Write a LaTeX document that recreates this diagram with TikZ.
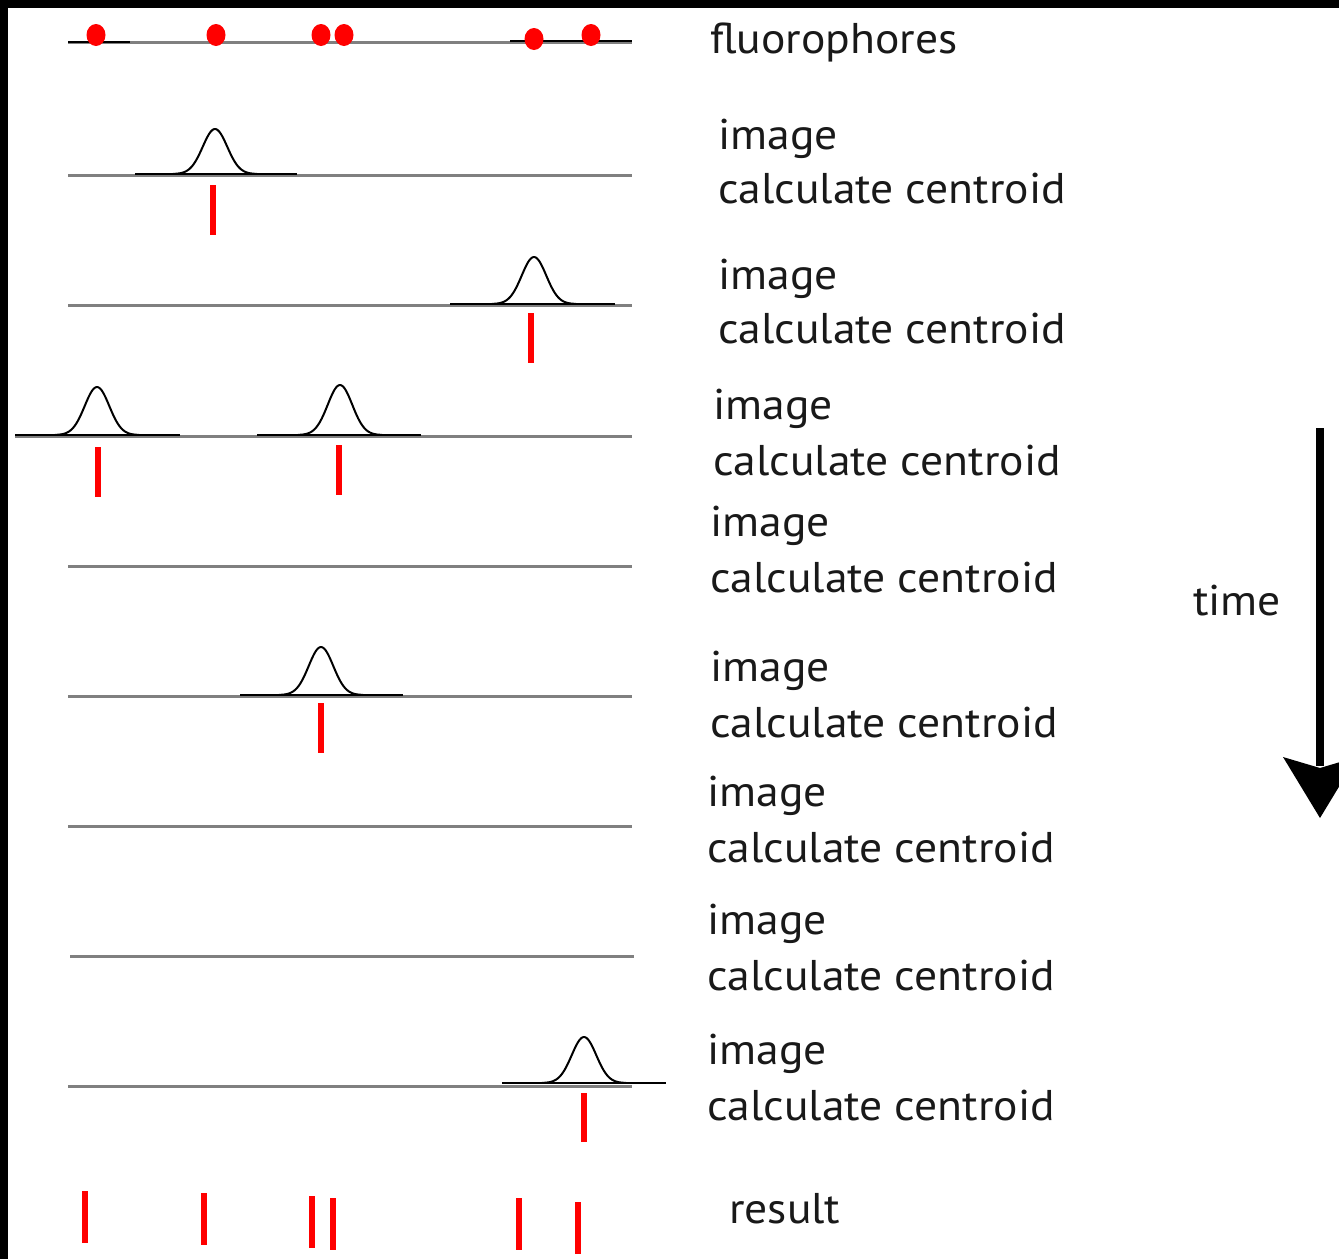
\documentclass[tikz,border=0pt]{standalone}
\usepackage{fontspec}
\setmainfont[FakeStretch=1.06]{PT Sans}
\begin{document}
\begin{tikzpicture}[x=1pt,y=-1pt,
  baseln/.style={draw=black!50,line width=3pt},
  thinblk/.style={draw=black,line width=1.4pt},
  curve/.style={draw=black,line width=2pt,line join=round},
  tick/.style={draw=red,line width=6pt},
  dot/.style={fill=red,draw=none},
  lbl/.style={anchor=base west,inner sep=0pt,font=\fontsize{43}{50}\selectfont,text=black!90},
]
\useasboundingbox (0,0) rectangle (1339,1259);
\clip (0,0) rectangle (1339,1259);
\fill[white] (0,0) rectangle (1339,1259);
% black frame top and left
\fill[black] (0,0) rectangle (1339,8);
\fill[black] (0,0) rectangle (8,1259);

\newcommand\gpk[5]{% center x, base y, left, right, height
  \draw[thinblk] (#3,#2-1) -- (#4,#2-1);
  \draw[curve] plot[domain=-42:42,samples=61,smooth] ({#1+\x},{#2-1-#5*exp(-(\x*\x)/300)});
}

% row 0: fluorophores
\draw[baseln] (68,42) -- (632,42);
\draw[thinblk] (68,42) -- (130,42);
\draw[thinblk] (510,41) -- (632,41);
\foreach \cx/\cy in {96/35,216/35,321/35,344/35,534/39,591/35}
  \fill[dot] (\cx,\cy) ellipse [x radius=9.5,y radius=11];

% row 1
\draw[baseln] (68,175) -- (632,175);
\gpk{215}{175}{135}{297}{45}
\draw[tick] (213,185) -- (213,235);

% row 2
\draw[baseln] (68,305) -- (632,305);
\gpk{534}{305}{450}{615}{47}
\draw[tick] (531,313) -- (531,363);

% row 3
\draw[baseln] (15,436) -- (632,436);
\gpk{97}{436}{15}{180}{48}
\gpk{340}{436}{257}{421}{50}
\draw[tick] (98,447) -- (98,497);
\draw[tick] (339,445) -- (339,495);

% row 4
\draw[baseln] (68,566) -- (632,566);

% row 5
\draw[baseln] (68,696) -- (632,696);
\gpk{321}{696}{240}{403}{48}
\draw[tick] (321,703) -- (321,753);

% row 6
\draw[baseln] (68,826) -- (632,826);

% row 7
\draw[baseln] (70,956) -- (634,956);

% row 8
\draw[baseln] (68,1086) -- (632,1086);
\gpk{584}{1084}{502}{666}{46}
\draw[tick] (584,1093) -- (584,1142);

% result ticks
\draw[tick] (85,1191) -- (85,1243);
\draw[tick] (204,1193) -- (204,1245);
\draw[tick] (312,1196) -- (312,1248);
\draw[tick] (333,1198) -- (333,1250);
\draw[tick] (519,1198) -- (519,1250);
\draw[tick] (578,1202) -- (578,1254);

% labels
\node[lbl] (fl) at (710,53) {fluorophores};
\node[lbl] (i1) at (718,149) {image};
\node[lbl] (c1) at (718,203) {calculate centroid};
\node[lbl] (i2) at (718,289) {image};
\node[lbl] (c2) at (718,343) {calculate centroid};
\node[lbl] (i3) at (713,419) {image};
\node[lbl] (c3) at (713,475) {calculate centroid};
\node[lbl] (i4) at (710,536) {image};
\node[lbl] (c4) at (710,592) {calculate centroid};
\node[lbl] (i5) at (710,681) {image};
\node[lbl] (c5) at (710,737) {calculate centroid};
\node[lbl] (i6) at (707,806) {image};
\node[lbl] (c6) at (707,862) {calculate centroid};
\node[lbl] (i7) at (707,934) {image};
\node[lbl] (c7) at (707,990) {calculate centroid};
\node[lbl] (i8) at (707,1064) {image};
\node[lbl] (c8) at (707,1120) {calculate centroid};
\node[lbl] (res) at (729,1223) {result};
\node[lbl] (tm) at (1193,615) {time};

% time arrow
\coordinate (ts) at (1320,428);
\coordinate (te) at (1320,766);
\draw[line width=8pt] (ts) -- (te);
\fill[black] (1283,757) -- (1320,818) -- (1357,757) -- (1320,768) -- cycle;
\end{tikzpicture}
\end{document}
